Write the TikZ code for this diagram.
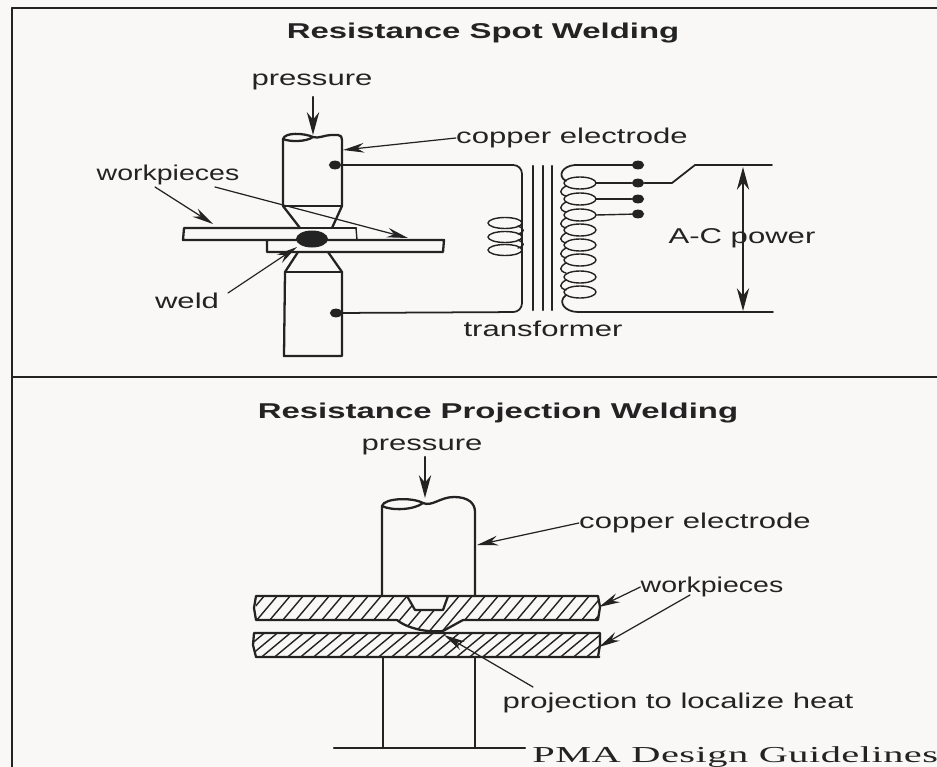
\documentclass[tikz,border=0pt]{standalone}
\usepackage{fontspec}
\setmainfont[FakeStretch=1.45,BoldFeatures={FakeStretch=1.535}]{Liberation Sans}
\newfontfamily\narrowlbl[FakeStretch=1.33]{Liberation Sans}
\newfontfamily\serifpma[FakeStretch=1.77,LetterSpace=2]{Liberation Serif}
\usetikzlibrary{arrows.meta,shapes.geometric}
\definecolor{paper}{RGB}{250,247,247}
\definecolor{ink}{RGB}{35,35,35}
\tikzset{
	lbl/.style={inner sep=0pt,font=\fontsize{12.2}{14}\selectfont,text=ink},
	nlbl/.style={inner sep=0pt,font=\fontsize{12.2}{14}\selectfont\narrowlbl,text=ink},
	ttl/.style={inner sep=0pt,font=\fontsize{12.2}{14}\selectfont\bfseries,text=ink},
	part/.style={draw=ink,line width=1.3pt,line join=round},
	thin/.style={draw=ink,line width=.8pt},
	wire/.style={draw=ink,line width=1pt},
	lead/.style={draw=ink,line width=.7pt,-{Stealth[length=12pt,width=5.5pt]}},
	push/.style={draw=ink,line width=1.2pt,-{Stealth[length=13pt,width=7pt]}},
	dot/.style={ellipse,fill=ink,inner sep=0pt,minimum width=7pt,minimum height=5pt},
}
\begin{document}
\begin{tikzpicture}[x=.02cm,y=-.02cm,line join=round,line cap=round]
	\useasboundingbox (0,0) rectangle (937,767);
	\fill[paper] (0,0) rectangle (937,767);
	\draw[ink,line width=1.2pt] (12,8)--(12,767);
	\draw[ink,line width=.8pt] (12,8)--(937,8);
	\draw[ink,line width=.9pt] (12,377)--(937,377);
	% upper panel
	\node[ttl] (title1) at (483,33) {Resistance Spot Welding};
	\node[lbl] (press1) at (312,82) {pressure};
	\node[lbl] (elec1) at (572,138) {copper electrode};
	\node[nlbl] (work1) at (168,175) {workpieces};
	\node[lbl] (weld1) at (187,301) {weld};
	\node[lbl] (power1) at (742,238) {A-C power};
	\node[lbl] (trans1) at (543,329) {transformer};
	% electrodes
	\draw[part] (283,206)--(283,139) .. controls (285,132) and (304,133) .. (313,137) .. controls (318,139) and (325,135) .. (331,135) -- (338,135) .. controls (341,135) and (342,137) .. (342,140) -- (342,206);
	\draw[part] (283,139) .. controls (290,142) and (306,142) .. (313,137);
	\draw[thin] (283,206)--(342,206);
	\draw[part] (283,206)--(300,228) (342,206)--(332,228);
	\draw[part] (298,252)--(285,272)--(284,356)--(342,356)--(342,272)--(328,252);
	\draw[part] (285,272)--(342,272);
	% workpieces
	\draw[part] (300,228)--(184,228)--(183,240)--(444,240)--(443,252)--(267,252)--(267,240);
	\draw[part] (300,228)--(356,228);
	\draw[thin] (356,228)--(357,240);
	\fill[ink] (312,239) ellipse (16 and 8.5);
	% leads
	\coordinate (tip1) at (313,135);
	\coordinate (tip2) at (343,150);
	\coordinate (tip3) at (213,224);
	\coordinate (tip4) at (408,238);
	\coordinate (tip5) at (297,247);
	\draw[push] (313,97)--(tip1);
	\draw[lead] (elec1.west)--(tip2);
	\draw[lead] (155,187)--(tip3);
	\draw[lead] (215,187)--(tip4);
	\draw[lead] (228,293)--(tip5);
	\node[dot] (jointA) at (335,165) {};
	\node[dot] (jointB) at (336,313) {};
	% transformer
	\draw[wire,rounded corners=5pt] (jointA)--(522,165)--(522,312)--(jointB);
	\foreach \x in {533,543,552}\draw[ink,line width=1.4pt] (\x,166)--(\x,310);
	\foreach \y in {223,237,250}\draw[thin] (505,\y) ellipse (17 and 5.5);
	\foreach \y in {183,199,215,230,245,260,277,292}\draw[thin] (580,\y) ellipse (16 and 6);
	\foreach \y in {183,199,215,230,245,260,277}\draw[thin] (566,\y+3) .. controls (559,\y+7) and (559,\y+11) .. (566,\y+13);
	\foreach \y in {223,237}\draw[thin] (518,\y+3) .. controls (525,\y+6) and (525,\y+9) .. (518,\y+11);
	\draw[wire] (634,165)--(575,165) .. controls (562,166) and (557,176) .. (566,181);
	\draw[wire] (566,295) .. controls (557,302) and (565,312) .. (578,312)--(773,312);
	\node[dot] (tapA) at (638,165) {};
	\node[dot] (tapB) at (638,183) {};
	\node[dot] (tapC) at (638,199) {};
	\node[dot] (tapD) at (638,214) {};
	\foreach \n/\y in {tapB/183,tapC/199,tapD/215}\draw[thin] (596,\y)--(\n);
	\draw[wire] (tapB)--(672,183)--(695,165)--(772,165);
	\coordinate (pwrT) at (743,167);
	\coordinate (pwrB) at (743,311);
	\draw[draw=ink,line width=.7pt,{Stealth[length=13pt,width=7pt]}-{Stealth[length=13pt,width=7pt]}] (pwrT)--(pwrB);
	% lower panel
	\node[ttl] (title2) at (498,413) {Resistance Projection Welding};
	\node[lbl] (press2) at (422,447) {pressure};
	\node[lbl] (elec2) at (695,523) {copper electrode};
	\node[nlbl] (work2) at (712,587) {workpieces};
	\node[lbl] (proj2) at (678,703) {projection to localize heat};
	\node[font=\fontsize{13}{16}\selectfont\serifpma,inner sep=0pt,text=ink,anchor=west] (pma) at (532,757) {PMA Design Guidelines};
	\coordinate (tip6) at (425,498);
	\coordinate (tip7) at (477,545);
	\coordinate (tip8) at (599,607);
	\coordinate (tip9) at (599,647);
	\coordinate (work2b) at (690,595);
	\draw[push] (425,457)--(tip6);
	\draw[lead] (elec2.west)--(tip7);
	\draw[lead] (work2.west)--(tip8);
	\draw[lead] (work2b)--(tip9);
	% electrode
	\draw[part] (382,596)--(382,506) .. controls (384,498) and (412,497) .. (423,503) .. controls (432,507) and (440,497) .. (454,497) .. controls (468,497) and (475,503) .. (475,512)--(475,596);
	\draw[part] (382,506) .. controls (392,511) and (414,510) .. (423,503);
	\draw[part] (383,657)--(383,748);
	\draw[part] (475,657)--(475,748);
	\draw[part] (334,748)--(525,748);
	% hatched plates
	\begin{scope}
		\clip (256,596)--(598,596)--(598,620)--(463,620)--(443,631)--(417,630)--(397,620)--(256,620)--cycle;
		\foreach \x in {232,245,...,610}\draw[thin] (\x,620+14)--(\x+44,596-14);
	\end{scope}
	\begin{scope}
		\clip (254,633) rectangle (600,657);
		\foreach \x in {232,245,...,610}\draw[thin] (\x,660)--(\x+36,630);
	\end{scope}
	\fill[paper] (407,596)--(415,610)--(443,610)--(448,596)--cycle;
	\draw[part] (397,620)--(256,620)--(254,608)--(256,596)--(598,596)--(600,607)--(598,620)--(463,620);
	\draw[part] (254,633)--(600,633)--(600,645)--(598,657)--(256,657)--(253,645)--cycle;
	\draw[part] (407,596)--(415,610)--(443,610)--(448,596);
	\draw[part] (397,620) .. controls (405,627) and (425,633) .. (443,631)--(463,620);
	\coordinate (tip10) at (444,635);
	\draw[lead] (533,687)--(tip10);
\end{tikzpicture}
\end{document}
